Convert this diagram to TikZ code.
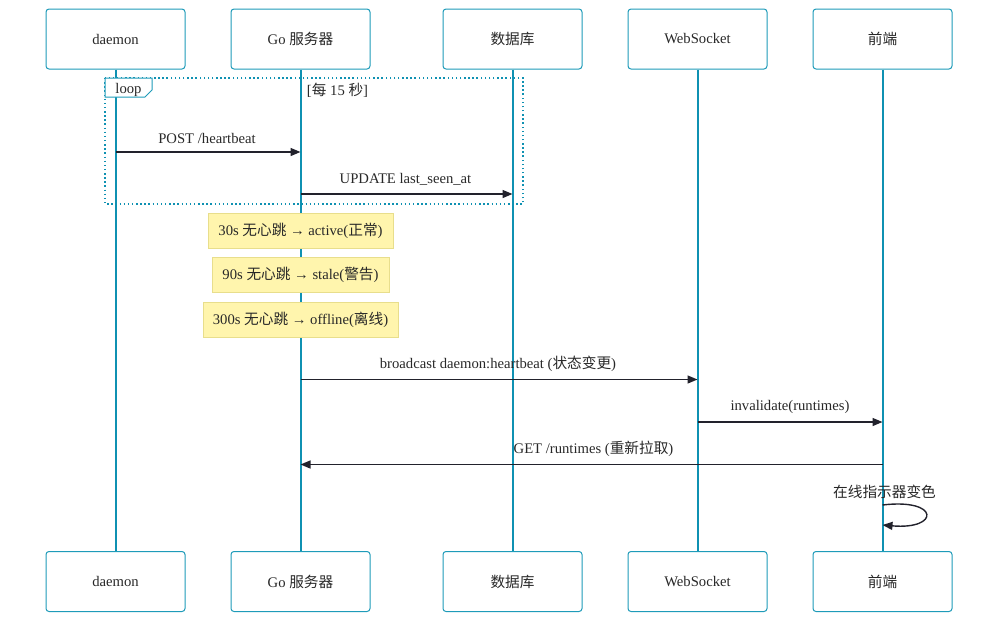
\documentclass[tikz,border=0pt]{standalone}
\usepackage{fontspec}
\setmainfont{Liberation Serif}
\newfontfamily\cjk{Noto Sans CJK SC}
\usetikzlibrary{arrows.meta,calc}
\definecolor{actborder}{RGB}{30,155,185}
\definecolor{lifeline}{RGB}{15,145,178}
\definecolor{msgcol}{RGB}{34,34,44}
\definecolor{notefill}{RGB}{255,245,173}
\definecolor{noteborder}{RGB}{232,222,140}
\definecolor{txt}{RGB}{40,40,40}
\begin{document}
\begin{tikzpicture}[x=0.75pt,y=-0.75pt,
  font=\fontsize{11}{13}\selectfont,
  actor/.style={draw=actborder,line width=0.75pt,rounded corners=2.25pt,fill=white,minimum width=104.25pt,minimum height=45pt,inner sep=0pt,text=txt},
  life/.style={draw=lifeline,line width=1.5pt},
  msg/.style={draw=msgcol,line width=1.05pt,-{Triangle[length=7.5pt,width=6pt]}},
  lbl/.style={text=txt,inner sep=0pt},
  note/.style={draw=noteborder,fill=notefill,line width=0.75pt,inner sep=0pt,minimum height=26.25pt,text=txt}]
\useasboundingbox (0,0) rectangle (1000,622);
% top actors
\node[actor] (dT) at (115.5,39) {daemon};
\node[actor] (gT) at (300.5,39) {Go {\cjk 服务器}};
\node[actor] (bT) at (512.5,39) {{\cjk 数据库}};
\node[actor] (wT) at (697.5,39) {WebSocket};
\node[actor] (fT) at (882.5,39) {{\cjk 前端}};
% bottom actors
\node[actor] (dB) at (115.5,581.5) {daemon};
\node[actor] (gB) at (300.5,581.5) {Go {\cjk 服务器}};
\node[actor] (bB) at (512.5,581.5) {{\cjk 数据库}};
\node[actor] (wB) at (697.5,581.5) {WebSocket};
\node[actor] (fB) at (882.5,581.5) {{\cjk 前端}};
% lifelines
\foreach \a in {d,g,b,w,f}{\draw[life] (\a T.south) -- (\a B.north);}
% loop frame
\draw[draw=lifeline,line width=1.1pt,dotted] (105,78) rectangle (523,204);
\draw[draw=actborder,line width=0.75pt,fill=white] (105,78) -- (152,78) -- (152,90) -- (145,97) -- (105,97) -- cycle;
\node[lbl] (looplbl) at (128.5,89.5) {loop};
\node[lbl] (loopcond) at (337.5,90) {[{\cjk 每} 15 {\cjk 秒}]};
% messages
\draw[msg] (dT.south |- 0,152) -- (gT.south |- 0,152);
\node[lbl] (m1l) at (207,138) {POST /heartbeat};
\draw[msg] (gT.south |- 0,194) -- (bT.south |- 0,194);
\node[lbl] (m2l) at (405.5,179) {UPDATE last\_seen\_at};
% notes
\node[note,minimum width=138.75pt] (n1) at (300.5,230.5) {30s {\cjk 无心跳} → active({\cjk 正常})};
\node[note,minimum width=132.75pt] (n2) at (300.5,275) {90s {\cjk 无心跳} → stale({\cjk 警告})};
\node[note,minimum width=146.25pt] (n3) at (300.5,319.5) {300s {\cjk 无心跳} → offline({\cjk 离线})};
% more messages
\draw[msg] (gT.south |- 0,379.5) -- (wT.south |- 0,379.5);
\node[lbl] (m3l) at (498,364) {broadcast daemon:heartbeat ({\cjk 状态变更})};
\draw[msg] (wT.south |- 0,422) -- (fT.south |- 0,422);
\node[lbl] (m4l) at (790,407) {invalidate(runtimes)};
\draw[msg] (fT.south |- 0,464.5) -- (gT.south |- 0,464.5);
\node[lbl] (m5l) at (593.5,449) {GET /runtimes ({\cjk 重新拉取})};
% self message
\node[lbl] (m6l) at (884.5,492) {{\cjk 在线指示器变色}};
\coordinate (s1) at (fT.south |- 0,505);
\coordinate (s2) at (fT.south |- 0,525);
\draw[msg] (s1) .. controls (940,498) and (940,530) .. (s2);
\end{tikzpicture}
\end{document}
